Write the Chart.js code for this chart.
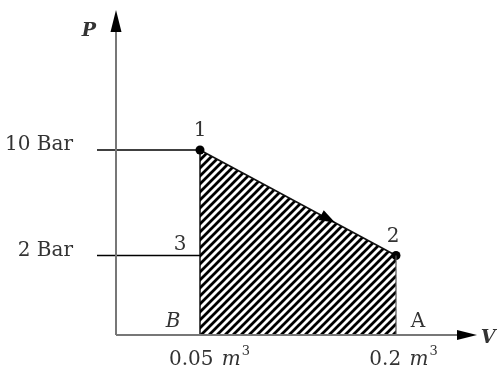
<!DOCTYPE html>
<html>
<head>
<meta charset="utf-8">
<script src="https://cdn.jsdelivr.net/npm/chart.js@4.4.0/dist/chart.umd.min.js"></script>
<style>
  html, body { margin: 0; padding: 0; background: #fff; }
  #wrap { width: 498px; height: 376px; position: relative; }
</style>
</head>
<body>
<div id="wrap"><canvas id="pvChart"></canvas></div>
<script>
// states 1 -> 2 of the process
const volumes = [0.05, 0.2]      // m^3
const pressures = [10, 2]        // bar
const stateLabels = ['1', '2']
const pressureTicks = ['10 Bar', '2 Bar']
const volumeTicks = ['0.05', '0.2']
const volumeUnit = 'm'
const extraLabels = ['3', 'B', 'A']
const axisNames = ['V', 'P']

const SERIF = '"DejaVu Serif", "Liberation Serif", serif'
const TEXT = '#333'
const FS = '20px '

function hatchPattern() {
  const c = document.createElement('canvas')
  c.width = 8
  c.height = 8
  const g = c.getContext('2d')
  g.strokeStyle = '#000'
  g.lineWidth = 2.8
  g.beginPath()
  g.moveTo(-2, 10); g.lineTo(10, -2)
  g.moveTo(-2, 2); g.lineTo(2, -2)
  g.moveTo(6, 10); g.lineTo(10, 6)
  g.stroke()
  return g.createPattern(c, 'repeat')
}

function line(ctx, x1, y1, x2, y2, color, w) {
  ctx.strokeStyle = color
  ctx.lineWidth = w
  ctx.beginPath()
  ctx.moveTo(x1, y1)
  ctx.lineTo(x2, y2)
  ctx.stroke()
}

function arrowHead(ctx, tx, ty, angle, len, half) {
  ctx.save()
  ctx.translate(tx, ty)
  ctx.rotate(angle)
  ctx.fillStyle = '#000'
  ctx.beginPath()
  ctx.moveTo(0, 0)
  ctx.lineTo(-len, -half)
  ctx.lineTo(-len, half)
  ctx.closePath()
  ctx.fill()
  ctx.restore()
}

function text(ctx, str, x, y, font, align) {
  ctx.font = font
  ctx.fillStyle = TEXT
  ctx.textAlign = align || 'center'
  ctx.textBaseline = 'middle'
  ctx.fillText(str, x, y)
}

function volumeLabel(ctx, num, cx, cy) {
  const f1 = FS + SERIF
  const f2 = 'italic ' + FS + SERIF
  const f3 = '13px ' + SERIF
  ctx.font = f1; const w1 = ctx.measureText(num + ' ').width + 2
  ctx.font = f2; const w2 = ctx.measureText(volumeUnit).width
  ctx.font = f3; const w3 = ctx.measureText('3').width
  let x = cx - (w1 + w2 + w3) / 2
  text(ctx, num, x, cy, f1, 'left'); x += w1
  text(ctx, volumeUnit, x, cy, f2, 'left'); x += w2 + 1
  text(ctx, '3', x, cy - 8, f3, 'left')
}

const diagramPlugin = {
  id: 'diagram',
  afterDatasetsDraw(chart) {
    const ctx = chart.ctx
    const {left, right, top, bottom} = chart.chartArea
    const xs = chart.scales.x
    const ys = chart.scales.y
    const px = volumes.map(v => xs.getPixelForValue(v))
    const py = pressures.map(p => ys.getPixelForValue(p))
    ctx.save()

    // edges of the shaded work area
    line(ctx, px[0], py[0], px[0], bottom, '#000', 1.4)
    line(ctx, px[1], py[1], px[1], bottom, '#555', 1.2)

    // pressure leader lines
    pressures.forEach((p, i) => {
      line(ctx, left - 19, py[i], px[0], py[i], '#000', 1.3)
      text(ctx, pressureTicks[i], left - 43, py[i] - 5, FS + SERIF, 'right')
    })

    // axes
    line(ctx, left, bottom, right - 12, bottom, '#777', 2)
    line(ctx, left, bottom, left, top + 12, '#777', 2)
    arrowHead(ctx, right, bottom, 0, 20, 5)
    arrowHead(ctx, left, top, -Math.PI / 2, 22, 5.5)

    // direction of the process
    const t = 0.69
    const ang = Math.atan2(py[1] - py[0], px[1] - px[0])
    arrowHead(ctx, px[0] + t * (px[1] - px[0]), py[0] + t * (py[1] - py[0]), ang, 16, 5.5)

    // state labels
    text(ctx, stateLabels[0], px[0], py[0] - 19, FS + SERIF)
    text(ctx, stateLabels[1], px[1] - 3, py[1] - 19, FS + SERIF)
    text(ctx, extraLabels[0], px[0] - 20, py[1] - 11, FS + SERIF)
    text(ctx, extraLabels[1], px[0] - 27, bottom - 13, 'italic ' + FS + SERIF)
    text(ctx, extraLabels[2], px[1] + 22, bottom - 13, FS + SERIF)

    // volume ticks
    volumeLabel(ctx, volumeTicks[0], px[0] + 9, bottom + 25)
    volumeLabel(ctx, volumeTicks[1], px[1] + 7, bottom + 25)

    // axis names
    text(ctx, axisNames[0], right + 11, bottom + 3, 'bold italic 19px ' + SERIF)
    text(ctx, axisNames[1], left - 27, top + 21, 'bold italic 19px ' + SERIF)

    ctx.restore()
  }
}

new Chart(document.getElementById('pvChart'), {
  type: 'line',
  data: {
    datasets: [{
      label: 'process 1-2',
      data: volumes.map((v, i) => ({x: v, y: pressures[i]})),
      borderColor: '#111',
      borderWidth: 1.5,
      fill: 'start',
      backgroundColor: hatchPattern(),
      pointRadius: 4.5,
      pointBorderWidth: 0,
      pointBackgroundColor: '#000',
      tension: 0
    }]
  },
  options: {
    responsive: true,
    maintainAspectRatio: false,
    animation: false,
    layout: {padding: {left: 116, top: 10, right: 21, bottom: 41}},
    plugins: {legend: {display: false}, tooltip: {enabled: false}},
    scales: {
      x: {type: 'linear', display: false, min: -0.01429, max: 0.26199},
      y: {type: 'linear', display: false, min: -4.028, max: 20.616}
    }
  },
  plugins: [diagramPlugin]
})
</script>
</body>
</html>
